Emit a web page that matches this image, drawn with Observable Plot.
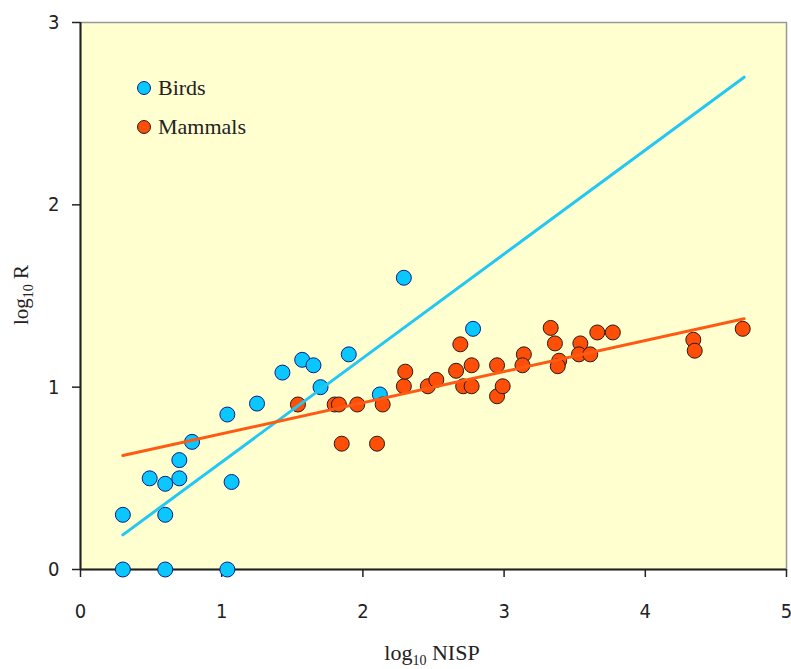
<!DOCTYPE html>
<html><head><meta charset="utf-8">
<script src="https://cdn.jsdelivr.net/npm/d3@7"></script>
<script src="https://cdn.jsdelivr.net/npm/@observablehq/plot@0.6"></script>
<style>body{margin:0;background:#fff;} #chart{position:relative;width:791px;height:669px;}</style>
</head><body><div id="chart"></div>
<script>
const birdsX = [0.30,0.60,1.04,0.30,0.60,0.49,0.60,0.70,0.70,0.79,1.07,1.04,1.25,1.43,1.57,1.65,1.70,1.90,2.12,2.29,2.78];
const birdsY = [0,0,0,0.30,0.30,0.50,0.47,0.50,0.60,0.70,0.48,0.85,0.91,1.08,1.15,1.12,1.00,1.18,0.96,1.60,1.32];
const mammalsX = [1.54,1.80,1.83,1.85,1.96,2.10,2.14,2.29,2.30,2.46,2.52,2.66,2.69,2.71,2.77,2.77,2.95,2.95,2.99,3.14,3.13,3.33,3.36,3.39,3.38,3.54,3.53,3.61,3.66,3.77,4.34,4.35,4.69];
const mammalsY = [0.905,0.905,0.905,0.69,0.905,0.69,0.905,1.005,1.085,1.005,1.04,1.09,1.235,1.005,1.12,1.005,1.12,0.95,1.005,1.18,1.12,1.325,1.24,1.145,1.115,1.24,1.18,1.18,1.30,1.30,1.26,1.20,1.32];
const fitX = [0.30, 4.70];
const birdsFitY = [0.19, 2.70];
const mammalsFitY = [0.625, 1.375];
const xTicks = [0,1,2,3,4,5];
const yTicks = [0,1,2,3];
const seriesNames = ["Birds","Mammals"];

const birds = birdsX.map((x,i)=>({x, y:birdsY[i]}));
const mammals = mammalsX.map((x,i)=>({x, y:mammalsY[i]}));
const birdsFit = fitX.map((x,i)=>({x, y:birdsFitY[i]}));
const mammalsFit = fitX.map((x,i)=>({x, y:mammalsFitY[i]}));

const BLUE = "#0AC8FF", BLUE_STROKE = "#0A1E80";
const ORANGE = "#FF4E08", ORANGE_STROKE = "#2a1a10";
const tickFont = "'Liberation Sans Narrow','DejaVu Sans Condensed',sans-serif";
const serif = "'Liberation Serif','Times New Roman',serif";

const plot = Plot.plot({
  width: 791, height: 669,
  marginLeft: 80, marginRight: 5, marginTop: 22, marginBottom: 100,
  x: {domain: [0,5]},
  y: {domain: [0,3]},
  style: {background: "#fff", overflow: "visible"},
  marks: [
    Plot.frame({fill: "#FFFFD0", stroke: "#999", strokeWidth: 1.5}),
    Plot.axisX({ticks: xTicks, tickSize: 8, tickPadding: 26, tickFormat: d3.format("d"), label: null, fontSize: 20, fontFamily: tickFont, stroke: "#222", strokeWidth: 1.5, fill: "#222"}),
    Plot.axisY({ticks: yTicks, tickSize: 8, tickPadding: 13, tickFormat: d3.format("d"), label: null, fontSize: 20, fontFamily: tickFont, stroke: "#222", strokeWidth: 1.5, fill: "#222"}),
    Plot.ruleX([0], {stroke: "#222", strokeWidth: 2}),
    Plot.ruleY([0], {stroke: "#222", strokeWidth: 2}),
    Plot.dot(birds, {x: "x", y: "y", r: 7.5, fill: BLUE, stroke: BLUE_STROKE, strokeWidth: 1}),
    Plot.dot(mammals, {x: "x", y: "y", r: 7.5, fill: ORANGE, stroke: ORANGE_STROKE, strokeWidth: 1}),
    Plot.line(birdsFit, {x: "x", y: "y", stroke: "#22C8F2", strokeWidth: 3}),
    Plot.line(mammalsFit, {x: "x", y: "y", stroke: "#FF5A14", strokeWidth: 3})
  ]
});
document.getElementById("chart").appendChild(plot);

const svg = d3.select(plot);
// axis titles
const xt = svg.append("text").attr("x", 432).attr("y", 660).attr("text-anchor","middle")
  .style("font-family", serif).style("font-size","22px").attr("fill","#222");
xt.append("tspan").text("log");
xt.append("tspan").style("font-size","14px").attr("dy",5).text("10");
xt.append("tspan").attr("dy",-5).text(" NISP");

const yt = svg.append("text").attr("transform","translate(28,295) rotate(-90)").attr("text-anchor","middle")
  .style("font-family", serif).style("font-size","21px").attr("fill","#222");
yt.append("tspan").text("log");
yt.append("tspan").style("font-size","14px").attr("dy",5).text("10");
yt.append("tspan").attr("dy",-5).text(" R");

// legend
const legend = [[seriesNames[0], BLUE, BLUE_STROKE, 88], [seriesNames[1], ORANGE, ORANGE_STROKE, 127]];
legend.forEach(([name, fill, stroke, cy]) => {
  svg.append("circle").attr("cx",144).attr("cy",cy).attr("r",6.5).attr("fill",fill).attr("stroke",stroke);
  svg.append("text").attr("x",158).attr("y",cy+7).attr("text-anchor","start")
    .style("font-family", serif).style("font-size","22px").attr("fill","#222").text(name);
});
</script></body></html>
